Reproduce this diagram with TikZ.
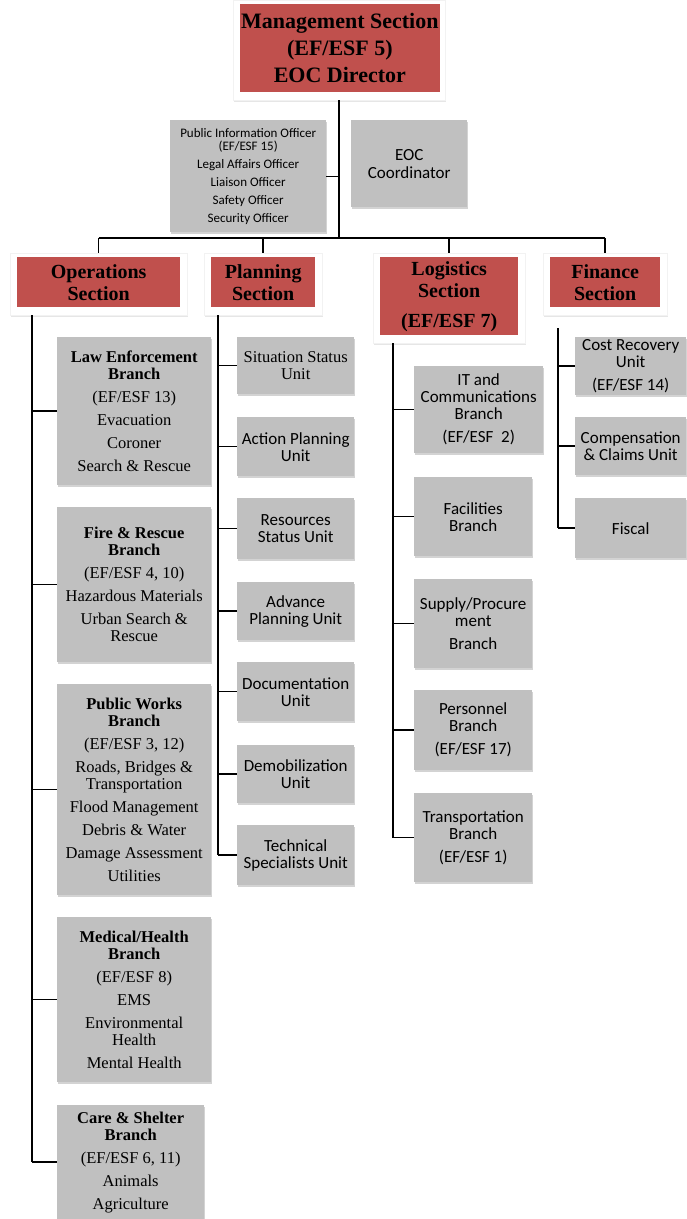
\documentclass[tikz,border=0pt]{standalone}
\usepackage{fontspec}
\setmainfont{Liberation Serif}
\newfontfamily\calibri{Carlito}
\usetikzlibrary{shadows}
\definecolor{sectred}{RGB}{192,80,77}
\definecolor{unitgray}{RGB}{192,192,192}
\tikzstyle{graybox}=[fill=unitgray,align=center,inner sep=1pt,drop shadow={shadow xshift=1pt,shadow yshift=-2pt,opacity=0.35}]
\tikzstyle{redbox}=[fill=sectred,align=center,inner sep=1pt]
\tikzstyle{frame}=[fill=white,draw=black!5,drop shadow={shadow xshift=1pt,shadow yshift=-2pt,opacity=0.2}]
\tikzstyle{link}=[line width=1.5pt]
\tikzstyle{trunk}=[line width=2.5pt]
\newcommand{\unitbox}[6]{\node[graybox,font=#1,anchor=north west,minimum width=#4,minimum height=#5] (#2) at (#3) {#6};}
\newcommand{\sectionbox}[6]{\node[frame,anchor=north west,minimum width=#3,minimum height=#4] (#1frame) at (#2) {};
  \node[redbox,font=#5,anchor=north west,minimum width=#3-14,minimum height=#4-12,xshift=7pt,yshift=-4pt] (#1) at (#2) {#6};}
\newcommand{\buslink}[2]{\draw[link] (#1 |- #2.west) -- (#2.west);}
\newcommand{\opsfont}{\fontsize{16.5}{17}\selectfont}
\newcommand{\cfont}{\calibri\fontsize{17}{17}\selectfont}
\newcommand{\sectfont}{\bfseries\fontsize{20}{22}\selectfont}

\begin{document}
\begin{tikzpicture}[x=1pt,y=-1pt]
    \useasboundingbox (0,0) rectangle (686,1219);
    % management level
    \sectionbox{mgmt}{233,0}{212}{100}{\bfseries\fontsize{22}{27}\selectfont}{Management Section\\(EF/ESF 5)\\EOC Director}
    \unitbox{\calibri\fontsize{13}{13}\selectfont}{officers}{170,120}{156}{112}{Public Information Officer\\(EF/ESF 15)\\[5pt]Legal Affairs Officer\\[5pt]Liaison Officer\\[5pt]Safety Officer\\[5pt]Security Officer}
    \unitbox{\calibri\fontsize{17}{18}\selectfont}{coord}{351,120}{116}{87}{EOC\\Coordinator}

    % sections
    \sectionbox{ops}{10,253}{177}{62}{\sectfont}{Operations\\Section}
    \sectionbox{plan}{204,253}{118}{62}{\sectfont}{Planning\\Section}
    \sectionbox{logi}{373,253}{152}{90}{\sectfont}{Logistics\\Section\\[8pt](EF/ESF 7)}
    \sectionbox{fin}{543,253}{124}{62}{\sectfont}{Finance\\Section}

    % operations branches
    \unitbox{\opsfont}{law}{57,337}{154}{148}{\textbf{Law Enforcement}\\\textbf{Branch}\\[6pt](EF/ESF 13)\\[6pt]Evacuation\\[6pt]Coroner\\[6pt]Search \& Rescue}
    \unitbox{\opsfont}{fire}{57,507}{154}{155}{\textbf{Fire \& Rescue}\\\textbf{Branch}\\[6pt](EF/ESF 4, 10)\\[6pt]Hazardous Materials\\[6pt]Urban Search \&\\Rescue}
    \unitbox{\opsfont}{works}{57,684}{154}{211}{\textbf{Public Works}\\\textbf{Branch}\\[6pt](EF/ESF 3, 12)\\[6pt]Roads, Bridges \&\\Transportation\\[6pt]Flood Management\\[6pt]Debris \& Water\\[6pt]Damage Assessment\\[6pt]Utilities}
    \unitbox{\opsfont}{medical}{57,917}{154}{165}{\textbf{Medical/Health}\\\textbf{Branch}\\[6pt](EF/ESF 8)\\[6pt]EMS\\[6pt]Environmental\\Health\\[6pt]Mental Health}
    \unitbox{\opsfont}{care}{57,1105}{147}{114}{\textbf{Care \& Shelter}\\\textbf{Branch}\\[6pt](EF/ESF 6, 11)\\[6pt]Animals\\[6pt]Agriculture}

    % planning units
    \unitbox{\fontsize{16.5}{17}\selectfont}{situation}{237,337}{117}{57}{Situation Status\\Unit}
    \unitbox{\cfont}{action}{237,417}{117}{59}{Action Planning\\Unit}
    \unitbox{\cfont}{resources}{237,498}{117}{61}{Resources\\Status Unit}
    \unitbox{\cfont}{advance}{237,582}{117}{58}{Advance\\Planning Unit}
    \unitbox{\cfont}{docs}{237,662}{117}{59}{Documentation\\Unit}
    \unitbox{\cfont}{demob}{237,745}{117}{58}{Demobilization\\Unit}
    \unitbox{\cfont}{tech}{237,825}{117}{60}{Technical\\Specialists Unit}

    % logistics branches
    \unitbox{\cfont}{itcom}{414,366}{129}{87}{IT and\\Communications\\Branch\\[6pt](EF/ESF\ \ 2)}
    \unitbox{\cfont}{facil}{414,477}{118}{79}{Facilities\\Branch}
    \unitbox{\cfont}{supply}{414,579}{118}{89}{Supply/Procure\\ment\\[6pt]Branch}
    \unitbox{\cfont}{personnel}{414,690}{118}{80}{Personnel\\Branch\\[6pt](EF/ESF 17)}
    \unitbox{\cfont}{transport}{414,793}{118}{89}{Transportation\\Branch\\[6pt](EF/ESF 1)}

    % finance units
    \unitbox{\cfont}{costrec}{575,337}{111}{58}{Cost Recovery\\Unit\\[6pt](EF/ESF 14)}
    \unitbox{\cfont}{claims}{575,417}{111}{58}{Compensation\\\& Claims Unit}
    \unitbox{\cfont}{fiscal}{575,498}{111}{60}{Fiscal}

    % connectors
    \coordinate (hub) at (339,238);
    \draw[trunk] (mgmtframe.south -| hub) -- (hub);
    \draw[line width=1pt] (officers.east) -- (officers.east -| hub);
    \draw[trunk] (opsframe.north |- hub) -- (finframe.north |- hub);
    \draw[link] (opsframe.north |- hub) -- (opsframe.north);
    \draw[link] (planframe.north |- hub) -- (planframe.north);
    \draw[link] (logiframe.north |- hub) -- (logiframe.north);
    \draw[link] (finframe.north |- hub) -- (finframe.north);

    \coordinate (opsbus) at (32,315);
    \draw[trunk] (opsbus) -- (opsbus |- care.west);
    \buslink{opsbus}{law} \buslink{opsbus}{fire} \buslink{opsbus}{works}
    \buslink{opsbus}{medical} \buslink{opsbus}{care}

    \coordinate (planbus) at (218,315);
    \draw[trunk] (planbus) -- (planbus |- tech.west);
    \buslink{planbus}{situation} \buslink{planbus}{action} \buslink{planbus}{resources}
    \buslink{planbus}{advance} \buslink{planbus}{docs} \buslink{planbus}{demob} \buslink{planbus}{tech}

    \coordinate (logibus) at (393,343);
    \draw[trunk] (logibus) -- (logibus |- transport.west);
    \buslink{logibus}{itcom} \buslink{logibus}{facil} \buslink{logibus}{supply}
    \buslink{logibus}{personnel} \buslink{logibus}{transport}

    \coordinate (finbus) at (558,328);
    \draw[trunk] (finbus) -- (finbus |- fiscal.west);
    \buslink{finbus}{costrec} \buslink{finbus}{claims} \buslink{finbus}{fiscal}
\end{tikzpicture}
\end{document}
